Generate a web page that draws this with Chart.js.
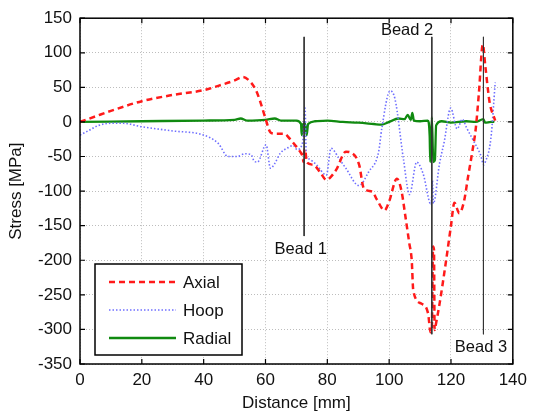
<!DOCTYPE html>
<html lang="en">
<head>
<meta charset="UTF-8">
<title>Stress vs distance</title>
<script src="https://cdn.jsdelivr.net/npm/chart.js"></script>
<style>
  body { margin: 0; background: #fff; }
  #wrap { width: 533px; height: 417px; }
</style>
</head>
<body>
<div id="wrap"><canvas id="grafico"></canvas></div>
<script>
// values
const axialX = [0, 5, 10, 20, 30, 40, 46, 50, 52.7, 55.3, 57, 58.4, 60, 61.6, 63, 66, 68, 69.5, 71.2, 72, 72.3, 72.6, 73, 73.3, 75.5, 78, 79.7, 81, 82.9, 86, 88, 90.3, 91.8, 94.6, 96, 98.5, 100, 102.5, 104, 105.2, 106.5, 107.3, 107.8, 110.5, 112.6, 113.4, 113.8, 114.2, 114.5, 114.7, 115, 116.3, 118.4, 120, 121.1, 122.7, 124.2, 125.5, 126.9, 128, 129, 130.3, 131.1, 132, 132.5, 134.3];
const axialY = [0, 8, 16, 30, 39, 46, 54, 60, 65, 57, 45, 28, 5, -15, -17, -17, -25, -33, -43, -50, -58, -39, -45, -58, -62, -75, -84, -80, -69, -43, -45, -62, -96, -101, -112, -128, -115, -82, -100, -135, -175, -200, -244, -263, -277, -304, -300, -180, -185, -301, -295, -263, -201, -150, -117, -132, -115, -80, -43, -10, 40, 112, 81, 45, 28, 2];

const hoopX = [0, 3, 6, 9.7, 14, 20, 30, 40, 44.7, 47.9, 51, 53.2, 55.3, 56.4, 57.4, 60.2, 61.6, 63, 64.8, 67, 69, 70.2, 72, 72.8, 73.2, 73.7, 76.5, 79.7, 81.2, 83.8, 86, 90.2, 93.4, 96.6, 97.6, 100.3, 101.9, 104.6, 106.6, 108.9, 111, 113.6, 114, 114.3, 116.3, 117.8, 119.9, 122, 123.7, 125, 127, 129.6, 130.6, 131.1, 132.9, 134.3];
const hoopY = [-19, -12, -5, -2, -2, -7, -13, -19, -31, -50, -50, -46, -47, -57, -58, -33, -67, -60, -45, -38, -34, -40, -30, 20, -50, -53, -62, -77, -38, -53, -67, -92, -72, -43, -10, 45, 33, -53, -105, -58, -75, -120, -85, -118, -60, -29, 20, -10, 4, -8, -25, -48, -62, -58, -24, 57];

const radialX = [0, 20, 40, 50, 52, 54, 60, 63, 65, 70, 71.5, 71.7, 72.2, 72.8, 73.3, 73.8, 76, 80, 85, 90, 95, 97.5, 100, 103, 105, 106, 107, 107.5, 108, 110, 112.5, 113.1, 113.3, 113.8, 114.3, 114.8, 115.2, 117, 120, 125, 128, 130.5, 131, 133, 134];
const radialY = [0, 1, 2, 3, 5, 2, 3, 5, 2, 2, -3, -19, -3, -2, -19, -3, 1, 2, 0, -1, -3, -4, 0, 5, 4, 10, 3, 13, 2, 1, 2, -20, -58, 7, -58, -55, -5, 1, -1, 1, 0, 4, -1, 0, 0];

const beadNames = ['Bead 1', 'Bead 2', 'Bead 3'];
const beadX = [72.5, 113.8, 130.5];
const beadTop = [123, 123, 123];
const beadBottom = [-165, -307, -307];
const beadLabelX = [71.4, 105.8, 129.7];
const beadLabelY = [-185, 133, -326];

const xTicks = [0, 20, 40, 60, 80, 100, 120, 140];
const yTicks = [150, 100, 50, 0, -50, -100, -150, -200, -250, -300, -350];

const FONT = "'Liberation Sans', Arial, sans-serif";

function pontos(xs, ys) {
  return xs.map((x, i) => ({ x: x, y: ys[i] }));
}

const series = [
  { label: 'Axial', data: pontos(axialX, axialY), borderColor: '#ff1a1a', borderWidth: 2.5, borderDash: [6, 4] },
  { label: 'Hoop', data: pontos(hoopX, hoopY), borderColor: '#6f6fff', borderWidth: 1.6, borderDash: [1.5, 2] },
  { label: 'Radial', data: pontos(radialX, radialY), borderColor: '#108a10', borderWidth: 2.3, borderDash: [] }
];

const datasets = [];
beadX.forEach((bx, i) => {
  datasets.push({
    label: beadNames[i],
    data: [{ x: bx, y: beadTop[i] }, { x: bx, y: beadBottom[i] }],
    borderColor: '#333', borderWidth: 1, pointRadius: 0, tension: 0
  });
});
series.forEach(s => {
  datasets.push(Object.assign({ pointRadius: 0, cubicInterpolationMode: 'monotone', fill: false }, s));
});

// frame, inward ticks, bead labels and the legend box
const moldura = {
  id: 'moldura',
  afterDatasetsDraw(chart) {
    const ctx = chart.ctx;
    const a = chart.chartArea;
    const sx = chart.scales.x, sy = chart.scales.y;
    ctx.save();
    ctx.strokeStyle = '#000';
    ctx.lineWidth = 1.5;
    ctx.setLineDash([]);
    ctx.strokeRect(a.left, a.top, a.right - a.left, a.bottom - a.top);
    ctx.lineWidth = 1.2;
    const t = 5;
    xTicks.forEach(v => {
      const px = sx.getPixelForValue(v);
      ctx.beginPath();
      ctx.moveTo(px, a.bottom); ctx.lineTo(px, a.bottom - t);
      ctx.moveTo(px, a.top); ctx.lineTo(px, a.top + t);
      ctx.stroke();
    });
    yTicks.forEach(v => {
      const py = sy.getPixelForValue(v);
      ctx.beginPath();
      ctx.moveTo(a.left, py); ctx.lineTo(a.left + t, py);
      ctx.moveTo(a.right, py); ctx.lineTo(a.right - t, py);
      ctx.stroke();
    });

    ctx.fillStyle = '#111';
    ctx.font = '16.5px ' + FONT;
    ctx.textAlign = 'center';
    ctx.textBaseline = 'middle';
    beadNames.forEach((n, i) => {
      ctx.fillText(n, sx.getPixelForValue(beadLabelX[i]), sy.getPixelForValue(beadLabelY[i]));
    });

    // legend
    const lx = a.left + 15, ly = a.bottom - 100, lw = 147, lh = 91;
    ctx.fillStyle = '#fff';
    ctx.fillRect(lx, ly, lw, lh);
    ctx.lineWidth = 1.5;
    ctx.strokeStyle = '#000';
    ctx.strokeRect(lx, ly, lw, lh);
    series.forEach((s, i) => {
      const yy = ly + 18 + i * 28;
      ctx.strokeStyle = s.borderColor;
      ctx.lineWidth = s.borderWidth;
      ctx.setLineDash(s.borderDash);
      ctx.beginPath();
      ctx.moveTo(lx + 14, yy); ctx.lineTo(lx + 81, yy);
      ctx.stroke();
      ctx.setLineDash([]);
      ctx.fillStyle = '#111';
      ctx.font = '17px ' + FONT;
      ctx.textAlign = 'left';
      ctx.fillText(s.label, lx + 88, yy + 1);
    });
    ctx.restore();
  }
};

new Chart(document.getElementById('grafico'), {
  type: 'line',
  data: { datasets: datasets },
  options: {
    responsive: true,
    maintainAspectRatio: false,
    animation: false,
    layout: { padding: { top: 15, right: 13, left: 0, bottom: 0 } },
    plugins: {
      legend: { display: false },
      tooltip: { enabled: false }
    },
    scales: {
      x: {
        type: 'linear', min: 0, max: 140,
        afterBuildTicks: s => { s.ticks = xTicks.map(v => ({ value: v })); },
        afterFit: s => { s.height = 53; },
        ticks: { color: '#111', font: { size: 17, family: FONT }, padding: 6, maxRotation: 0 },
        grid: { color: '#bdbdbd', lineWidth: 1, drawTicks: false },
        border: { display: false, dash: [1, 2] },
        title: { display: true, text: 'Distance [mm]', color: '#111', font: { size: 17, family: FONT }, padding: { top: 0, bottom: 3 } }
      },
      y: {
        type: 'linear', min: -350, max: 150,
        afterBuildTicks: s => { s.ticks = yTicks.map(v => ({ value: v })); },
        afterFit: s => { s.width = 80; },
        ticks: { color: '#111', font: { size: 17, family: FONT }, padding: 8 },
        grid: { color: '#bdbdbd', lineWidth: 1, drawTicks: false },
        border: { display: false, dash: [1, 2] },
        title: { display: true, text: 'Stress [MPa]', color: '#111', font: { size: 17, family: FONT }, padding: { top: 6, bottom: 0 } }
      }
    }
  },
  plugins: [moldura]
});
</script>
</body>
</html>
